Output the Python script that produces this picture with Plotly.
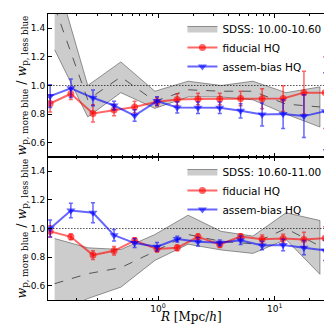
import plotly.graph_objects as go
from plotly.subplots import make_subplots

# radial bins of the model points (Mpc/h)
r_model = [0.119, 0.179, 0.277, 0.42, 0.63, 0.98, 1.46, 2.2, 3.38, 5.1, 7.8, 11.8, 17.8, 27.0]
# radial bins of the SDSS band
r_sdss = [0.13, 0.25, 0.48, 0.94, 1.81, 3.47, 6.5, 12.5, 24.4]

# panel 1: 10.00-10.60
fid1 = [0.874, 0.942, 0.805, 0.828, 0.849, 0.886, 0.902, 0.905, 0.905, 0.909, 0.907, 0.909, 0.95, 0.95]
fid1_err = [0.06, 0.04, 0.06, 0.04, 0.04, 0.03, 0.04, 0.04, 0.04, 0.05, 0.07, 0.09, 0.15, 0.25]
ab1 = [0.926, 0.981, 0.914, 0.86, 0.79, 0.891, 0.847, 0.844, 0.844, 0.823, 0.797, 0.80, 0.786, 0.82]
ab1_err = [0.08, 0.065, 0.055, 0.03, 0.04, 0.03, 0.04, 0.04, 0.04, 0.05, 0.08, 0.10, 0.15, 0.27]
sdss1_lo = [1.25, 0.78, 0.95, 0.84, 0.92, 0.92, 0.90, 0.80, 0.71]
sdss1_hi = [1.80, 1.00, 1.165, 0.96, 1.03, 1.00, 1.03, 0.95, 0.99]
sdss1_med = [1.55, 0.90, 1.06, 0.89, 0.97, 0.96, 0.96, 0.87, 0.85]

# panel 2: 10.60-11.00
fid2 = [0.98, 0.942, 0.814, 0.844, 0.916, 0.856, 0.865, 0.942, 0.888, 0.944, 0.925, 0.93, 0.923, 0.932]
fid2_err = [0.04, 0.02, 0.03, 0.03, 0.02, 0.02, 0.02, 0.02, 0.02, 0.02, 0.03, 0.03, 0.05, 0.08]
ab2 = [1.0, 1.126, 1.11, 0.953, 0.898, 0.872, 0.926, 0.907, 0.90, 0.918, 0.881, 0.884, 0.866, 0.847]
ab2_err = [0.06, 0.05, 0.07, 0.04, 0.03, 0.03, 0.02, 0.03, 0.02, 0.03, 0.03, 0.04, 0.05, 0.07]
sdss2_lo = [0.40, 0.51, 0.59, 0.777, 0.89, 0.85, 0.826, 0.923, 0.68]
sdss2_hi = [0.93, 0.865, 0.853, 0.958, 1.093, 0.98, 0.947, 1.11, 1.056]
sdss2_med = [0.614, 0.684, 0.726, 0.84, 0.958, 0.91, 0.893, 1.0, 0.877]

labels = ["SDSS: 10.00-10.60", "SDSS: 10.60-11.00"]

RED = "rgba(255,0,0,0.6)"
BLUE = "rgba(0,0,255,0.6)"

fig = make_subplots(rows=2, cols=1, shared_xaxes=True, vertical_spacing=0)

panels = [
    (fid1, fid1_err, ab1, ab1_err, sdss1_lo, sdss1_hi, sdss1_med, "legend"),
    (fid2, fid2_err, ab2, ab2_err, sdss2_lo, sdss2_hi, sdss2_med, "legend2"),
]

for i, (fid, fid_err, ab, ab_err, lo, hi, med, leg) in enumerate(panels):
    row = i + 1
    # SDSS band as a closed polygon
    fig.add_trace(go.Scatter(x=r_sdss + r_sdss[::-1], y=hi + lo[::-1], fill="toself",
                             fillcolor="rgba(128,128,128,0.4)", mode="lines",
                             line=dict(color="rgba(90,90,90,0.8)", width=0.8),
                             name=labels[i], legend=leg), row=row, col=1)
    fig.add_trace(go.Scatter(x=r_sdss, y=med, mode="lines", showlegend=False,
                             line=dict(color="#555555", width=1, dash="dash")), row=row, col=1)
    # reference line at unity
    fig.add_trace(go.Scatter(x=[0.1, 40], y=[1.0, 1.0], mode="lines", showlegend=False,
                             line=dict(color="black", width=1, dash="1px,2px")), row=row, col=1)
    fig.add_trace(go.Scatter(x=r_model, y=fid, mode="lines+markers", name="fiducial HQ", legend=leg,
                             line=dict(color=RED, width=2),
                             marker=dict(color=RED, size=7, symbol="circle"),
                             error_y=dict(type="data", array=fid_err, color=RED, thickness=1.5, width=2)),
                  row=row, col=1)
    fig.add_trace(go.Scatter(x=r_model, y=ab, mode="lines+markers", name="assem-bias HQ", legend=leg,
                             line=dict(color=BLUE, width=2),
                             marker=dict(color=BLUE, size=8, symbol="triangle-down"),
                             error_y=dict(type="data", array=ab_err, color=BLUE, thickness=1.5, width=2)),
                  row=row, col=1)

minor_x = [0.2, 0.3, 0.4, 0.5, 0.6, 0.7, 0.8, 0.9, 2, 3, 4, 5, 6, 7, 8, 9, 20, 30]
axis_common = dict(showline=True, linecolor="black", linewidth=1, mirror="allticks",
                   ticks="inside", ticklen=4, tickcolor="black", showgrid=False, zeroline=False,
                   tickfont=dict(family="DejaVu Sans", size=9, color="black"))
for row in (1, 2):
    fig.update_xaxes(type="log", range=[-0.943, 1.508], tickvals=[1, 10],
                     ticktext=["10<sup>0</sup>", "10<sup>1</sup>"], showticklabels=(row == 2),
                     minor=dict(tickvals=minor_x, ticks="inside", ticklen=2, tickcolor="black"),
                     row=row, col=1, **axis_common)
    fig.update_yaxes(range=[0.5, 1.5], dtick=0.2, tick0=0, tickformat=".1f",
                     row=row, col=1, **axis_common)

ylab = "<i>w</i><sub>p, more blue</sub> / <i>w</i><sub>p, less blue</sub>"
annotations = []
for yc in (0.75, 0.25):
    annotations.append(dict(text=ylab, xref="paper", yref="paper", x=0, y=yc, xshift=-26,
                            xanchor="center", yanchor="middle", textangle=-90, showarrow=False,
                            font=dict(family="DejaVu Serif", size=12.5, color="black")))
annotations.append(dict(text="<i>R</i> [Mpc/<i>h</i>]", xref="paper", yref="paper", x=0.5, y=0,
                        yshift=-17, xanchor="center", yanchor="middle", showarrow=False,
                        font=dict(family="DejaVu Serif", size=12, color="black")))

legend_style = dict(xanchor="left", yanchor="top", bgcolor="rgba(0,0,0,0)",
                    font=dict(family="DejaVu Sans", size=10.5, color="black"), tracegroupgap=0)
fig.update_layout(
    width=332, height=325,
    margin=dict(l=40, r=6, t=6, b=33),
    plot_bgcolor="white", paper_bgcolor="white",
    annotations=annotations,
    legend=dict(x=0.47, y=1.0, **legend_style),
    legend2=dict(x=0.47, y=0.5, **legend_style),
)

fig.write_html("out.html")
